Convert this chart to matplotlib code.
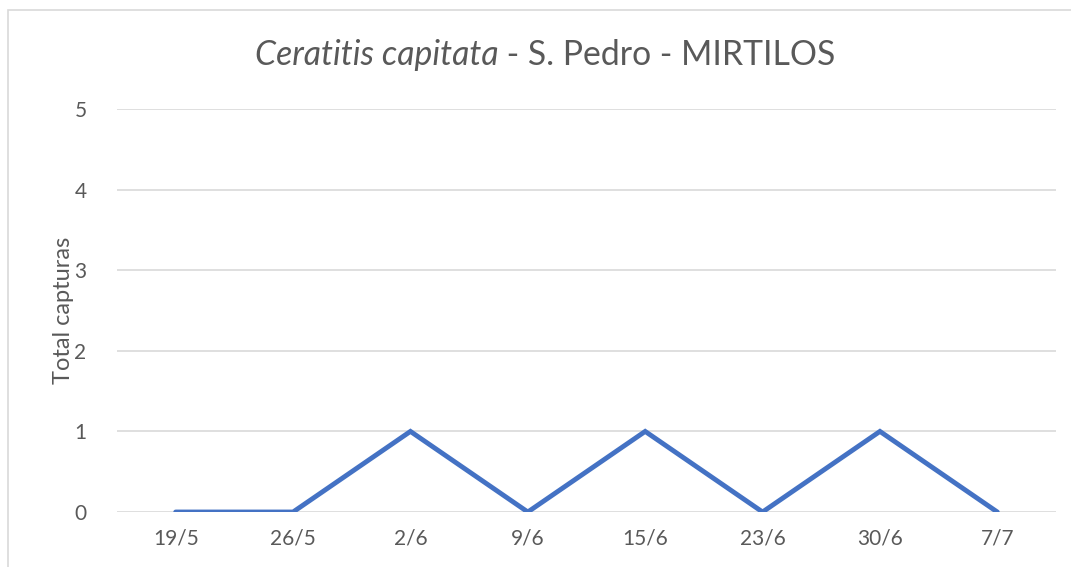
import matplotlib
matplotlib.use("Agg")
import matplotlib.pyplot as plt
from matplotlib.patches import Rectangle

# data
dates = ["19/5", "26/5", "2/6", "9/6", "15/6", "23/6", "30/6", "7/7"]
captures = [0, 0, 1, 0, 1, 0, 1, 0]
yticks = [0, 1, 2, 3, 4, 5]

plt.rcParams['font.family'] = ['Lato', 'DejaVu Sans']
grey = "#595959"

fig = plt.figure(figsize=(10.71, 5.67), dpi=100)
ax = fig.add_axes([117 / 1071, 1 - 512 / 567, (1056 - 117) / 1071, (512 - 109) / 567])

# chart area border (cropped on the right and bottom in the original)
fig.patches.append(Rectangle((8 / 1071, -0.1), 1.2, 1 - 10 / 567 + 0.1,
                             transform=fig.transFigure, fill=False,
                             edgecolor="#d9d9d9", linewidth=1.2))

x = list(range(len(dates)))
ax.plot(x, captures, color="#4472C4", linewidth=3.5, solid_capstyle="round",
        solid_joinstyle="miter", zorder=3)

ax.set_xlim(-0.5, len(dates) - 0.5)
ax.set_ylim(0, 5)
ax.set_xticks(x)
ax.set_xticklabels(dates)
ax.set_yticks(yticks)
ax.grid(axis="y", color="#d9d9d9", linewidth=1.2)
ax.set_axisbelow(True)
for s in ax.spines.values():
  s.set_visible(False)
ax.tick_params(length=0, labelsize=15, colors=grey, pad=12)
ax.tick_params(axis="y", pad=22)
ax.set_ylabel("Total capturas", fontsize=17, color=grey, labelpad=0)

# title with italic species name
t1 = fig.text(0, 1 - 55 / 567, "Ceratitis capitata", fontsize=24.3, style="italic",
              color=grey, va="center", ha="left")
t2 = fig.text(0, 1 - 55 / 567, " - S. Pedro - MIRTILOS", fontsize=24.3,
              color=grey, va="center", ha="left")
fig.canvas.draw()
r = fig.canvas.get_renderer()
w1 = t1.get_window_extent(r).width / 1071
w2 = t2.get_window_extent(r).width / 1071
start = 545 / 1071 - (w1 + w2) / 2
t1.set_x(start)
t2.set_x(start + w1)

fig.savefig("out.png", dpi=100)
